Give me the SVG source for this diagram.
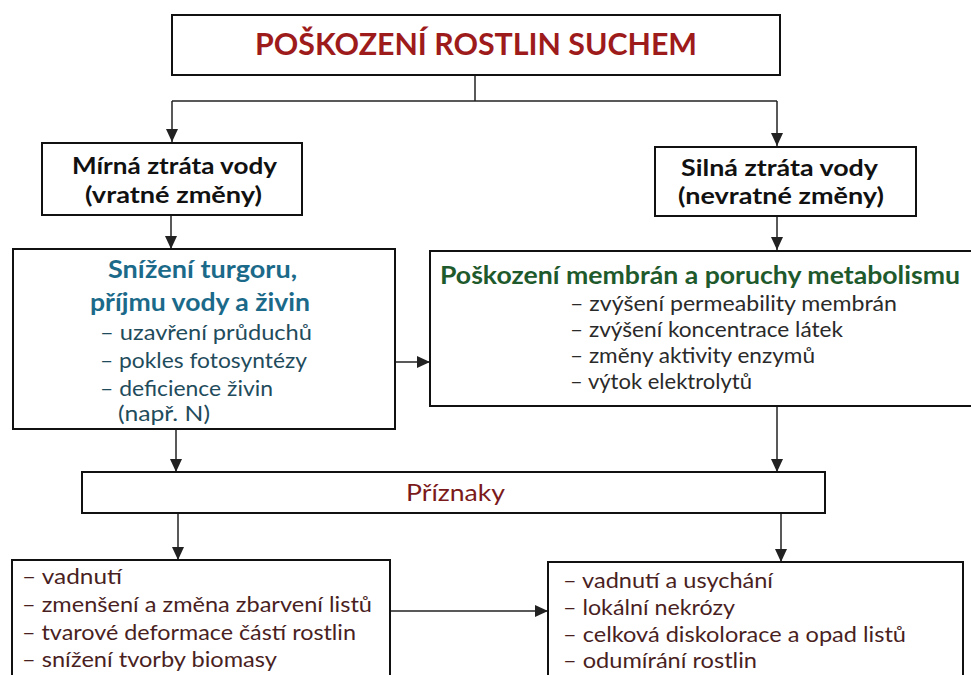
<svg xmlns="http://www.w3.org/2000/svg" width="971" height="675" viewBox="0 0 971 675">
<defs>
<marker id="arr" markerUnits="userSpaceOnUse" markerWidth="14" markerHeight="14" refX="13" refY="6" orient="auto">
<path d="M0,0 L13,6 L0,12 Z" fill="#222"/>
</marker>
<style>
.box{fill:#fff;stroke:#111;stroke-width:2}
.con{fill:none;stroke:#222;stroke-width:1.5}
.t{font-family:Lato,"Open Sans","Liberation Sans",sans-serif}
.title{font-size:30px;font-weight:700;fill:#9e1b1b}
.h{font-size:23px;font-weight:700;fill:#111}
.hl{font-size:24px;font-weight:700;fill:#1b6a8a}
.hr{font-size:24px;font-weight:700;fill:#1e5a2c}
.il{font-size:21px;fill:#1f4c5c}
.ir{font-size:21px;fill:#2a2a2a}
.pz{font-size:24px;font-weight:400;fill:#7a1a1a}
.ib{font-size:21px;fill:#4a1f1f}
</style>
</defs>
<rect width="971" height="675" fill="#fff"/>
<g id="connectors">
<path class="con" d="M475,75 V101"/>
<path class="con" d="M172,101 H777"/>
<path class="con" d="M172,101 V142" marker-end="url(#arr)"/>
<path class="con" d="M777,101 V146" marker-end="url(#arr)"/>
<path class="con" d="M171,215 V249" marker-end="url(#arr)"/>
<path class="con" d="M777,216 V250" marker-end="url(#arr)"/>
<path class="con" d="M395,362 H430" marker-end="url(#arr)"/>
<path class="con" d="M176,429 V472" marker-end="url(#arr)"/>
<path class="con" d="M777,406 V472" marker-end="url(#arr)"/>
<path class="con" d="M178,513 V560" marker-end="url(#arr)"/>
<path class="con" d="M781,513 V562" marker-end="url(#arr)"/>
<path class="con" d="M390,611 H548" marker-end="url(#arr)"/>
</g>
<g id="title">
<rect class="box" x="172" y="15" width="608" height="60"/>
<text class="t title" x="255" y="55" textLength="442" lengthAdjust="spacingAndGlyphs">POŠKOZENÍ ROSTLIN SUCHEM</text>
</g>
<g id="mirna">
<rect class="box" x="42" y="143" width="260" height="72"/>
<text class="t h" x="72" y="174" textLength="205" lengthAdjust="spacingAndGlyphs">Mírná ztráta vody</text>
<text class="t h" x="85" y="203" textLength="177" lengthAdjust="spacingAndGlyphs">(vratné změny)</text>
</g>
<g id="silna">
<rect class="box" x="655" y="147" width="261" height="69"/>
<text class="t h" x="681" y="176" textLength="197" lengthAdjust="spacingAndGlyphs">Silná ztráta vody</text>
<text class="t h" x="678" y="204" textLength="206" lengthAdjust="spacingAndGlyphs">(nevratné změny)</text>
</g>
<g id="turgor">
<rect class="box" x="13" y="249" width="382" height="180"/>
<text class="t hl" x="108" y="278" textLength="189" lengthAdjust="spacingAndGlyphs">Snížení turgoru,</text>
<text class="t hl" x="90" y="311" textLength="220" lengthAdjust="spacingAndGlyphs">příjmu vody a živin</text>
<text class="t il" x="100" y="340" textLength="212" lengthAdjust="spacingAndGlyphs">– uzavření průduchů</text>
<text class="t il" x="100" y="368" textLength="207" lengthAdjust="spacingAndGlyphs">– pokles fotosyntézy</text>
<text class="t il" x="100" y="396" textLength="173" lengthAdjust="spacingAndGlyphs">– deficience živin</text>
<text class="t il" x="118" y="421" textLength="92" lengthAdjust="spacingAndGlyphs">(např. N)</text>
</g>
<g id="membrany">
<rect class="box" x="430" y="251" width="545" height="155"/>
<text class="t hr" x="440" y="284" textLength="520" lengthAdjust="spacingAndGlyphs">Poškození membrán a poruchy metabolismu</text>
<text class="t ir" x="570" y="311" textLength="327" lengthAdjust="spacingAndGlyphs">– zvýšení permeability membrán</text>
<text class="t ir" x="570" y="337" textLength="273" lengthAdjust="spacingAndGlyphs">– zvýšení koncentrace látek</text>
<text class="t ir" x="570" y="363" textLength="245" lengthAdjust="spacingAndGlyphs">– změny aktivity enzymů</text>
<text class="t ir" x="570" y="389" textLength="182" lengthAdjust="spacingAndGlyphs">– výtok elektrolytů</text>
</g>
<g id="priznaky">
<rect class="box" x="82" y="472" width="743" height="41"/>
<text class="t pz" x="406" y="501" textLength="99" lengthAdjust="spacingAndGlyphs">Příznaky</text>
</g>
<g id="mirne-priznaky">
<rect class="box" x="12" y="560" width="378" height="130"/>
<text class="t ib" x="22" y="584" textLength="100" lengthAdjust="spacingAndGlyphs">– vadnutí</text>
<text class="t ib" x="22" y="612" textLength="350" lengthAdjust="spacingAndGlyphs">– zmenšení a změna zbarvení listů</text>
<text class="t ib" x="22" y="640" textLength="334" lengthAdjust="spacingAndGlyphs">– tvarové deformace částí rostlin</text>
<text class="t ib" x="22" y="667" textLength="255" lengthAdjust="spacingAndGlyphs">– snížení tvorby biomasy</text>
</g>
<g id="silne-priznaky">
<rect class="box" x="548" y="562" width="415" height="130"/>
<text class="t ib" x="563" y="588" textLength="210" lengthAdjust="spacingAndGlyphs">– vadnutí a usychání</text>
<text class="t ib" x="563" y="615" textLength="172" lengthAdjust="spacingAndGlyphs">– lokální nekrózy</text>
<text class="t ib" x="563" y="642" textLength="343" lengthAdjust="spacingAndGlyphs">– celková diskolorace a opad listů</text>
<text class="t ib" x="563" y="668" textLength="194" lengthAdjust="spacingAndGlyphs">– odumírání rostlin</text>
</g>
</svg>
